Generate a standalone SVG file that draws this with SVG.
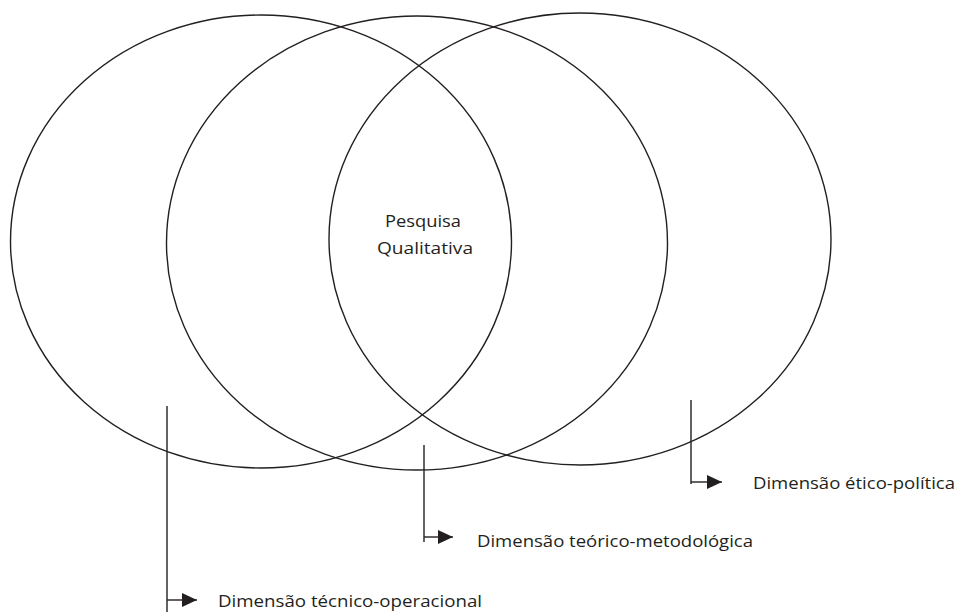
<svg xmlns="http://www.w3.org/2000/svg" width="959" height="612" viewBox="0 0 959 612">
  <style>
    .ring { fill: none; stroke: #231f20; stroke-width: 1.4; }
    .conn { fill: none; stroke: #231f20; stroke-width: 1.4; }
    .lbl { font-family: "Open Sans", "Noto Sans", sans-serif; font-size: 17px; fill: #231f20; }
  </style>
  <defs>
    <marker id="arr" viewBox="0 0 15 14" refX="15" refY="7" markerWidth="15" markerHeight="14" markerUnits="userSpaceOnUse" orient="auto">
      <path d="M0,0 L15,7 L0,14 z" fill="#231f20"/>
    </marker>
  </defs>
  <rect width="959" height="612" fill="#ffffff"/>
  <g id="circle-left"><ellipse class="ring" cx="261" cy="241.5" rx="250.5" ry="226.5"/></g>
  <g id="circle-middle"><ellipse class="ring" cx="417" cy="243" rx="250.5" ry="227"/></g>
  <g id="circle-right"><ellipse class="ring" cx="580" cy="239" rx="251" ry="226"/></g>
  <g id="center-label">
    <text class="lbl" x="423" y="227" text-anchor="middle" textLength="76" lengthAdjust="spacingAndGlyphs">Pesquisa</text>
    <text class="lbl" x="425" y="254" text-anchor="middle" textLength="96" lengthAdjust="spacingAndGlyphs">Qualitativa</text>
  </g>
  <g id="connectors">
    <path class="conn" d="M167,406 V612"/>
    <path class="conn" d="M167,600 H197" marker-end="url(#arr)"/>
    <path class="conn" d="M424,445 V542"/>
    <path class="conn" d="M424,537 H453" marker-end="url(#arr)"/>
    <path class="conn" d="M691,400 V484"/>
    <path class="conn" d="M691,482 H722" marker-end="url(#arr)"/>
  </g>
  <g id="label-tecnico"><text class="lbl" x="218" y="607" textLength="264" lengthAdjust="spacingAndGlyphs">Dimensão técnico-operacional</text></g>
  <g id="label-teorico"><text class="lbl" x="477" y="547" textLength="276" lengthAdjust="spacingAndGlyphs">Dimensão teórico-metodológica</text></g>
  <g id="label-etico"><text class="lbl" x="753" y="489" textLength="202" lengthAdjust="spacingAndGlyphs">Dimensão ético-política</text></g>
</svg>
